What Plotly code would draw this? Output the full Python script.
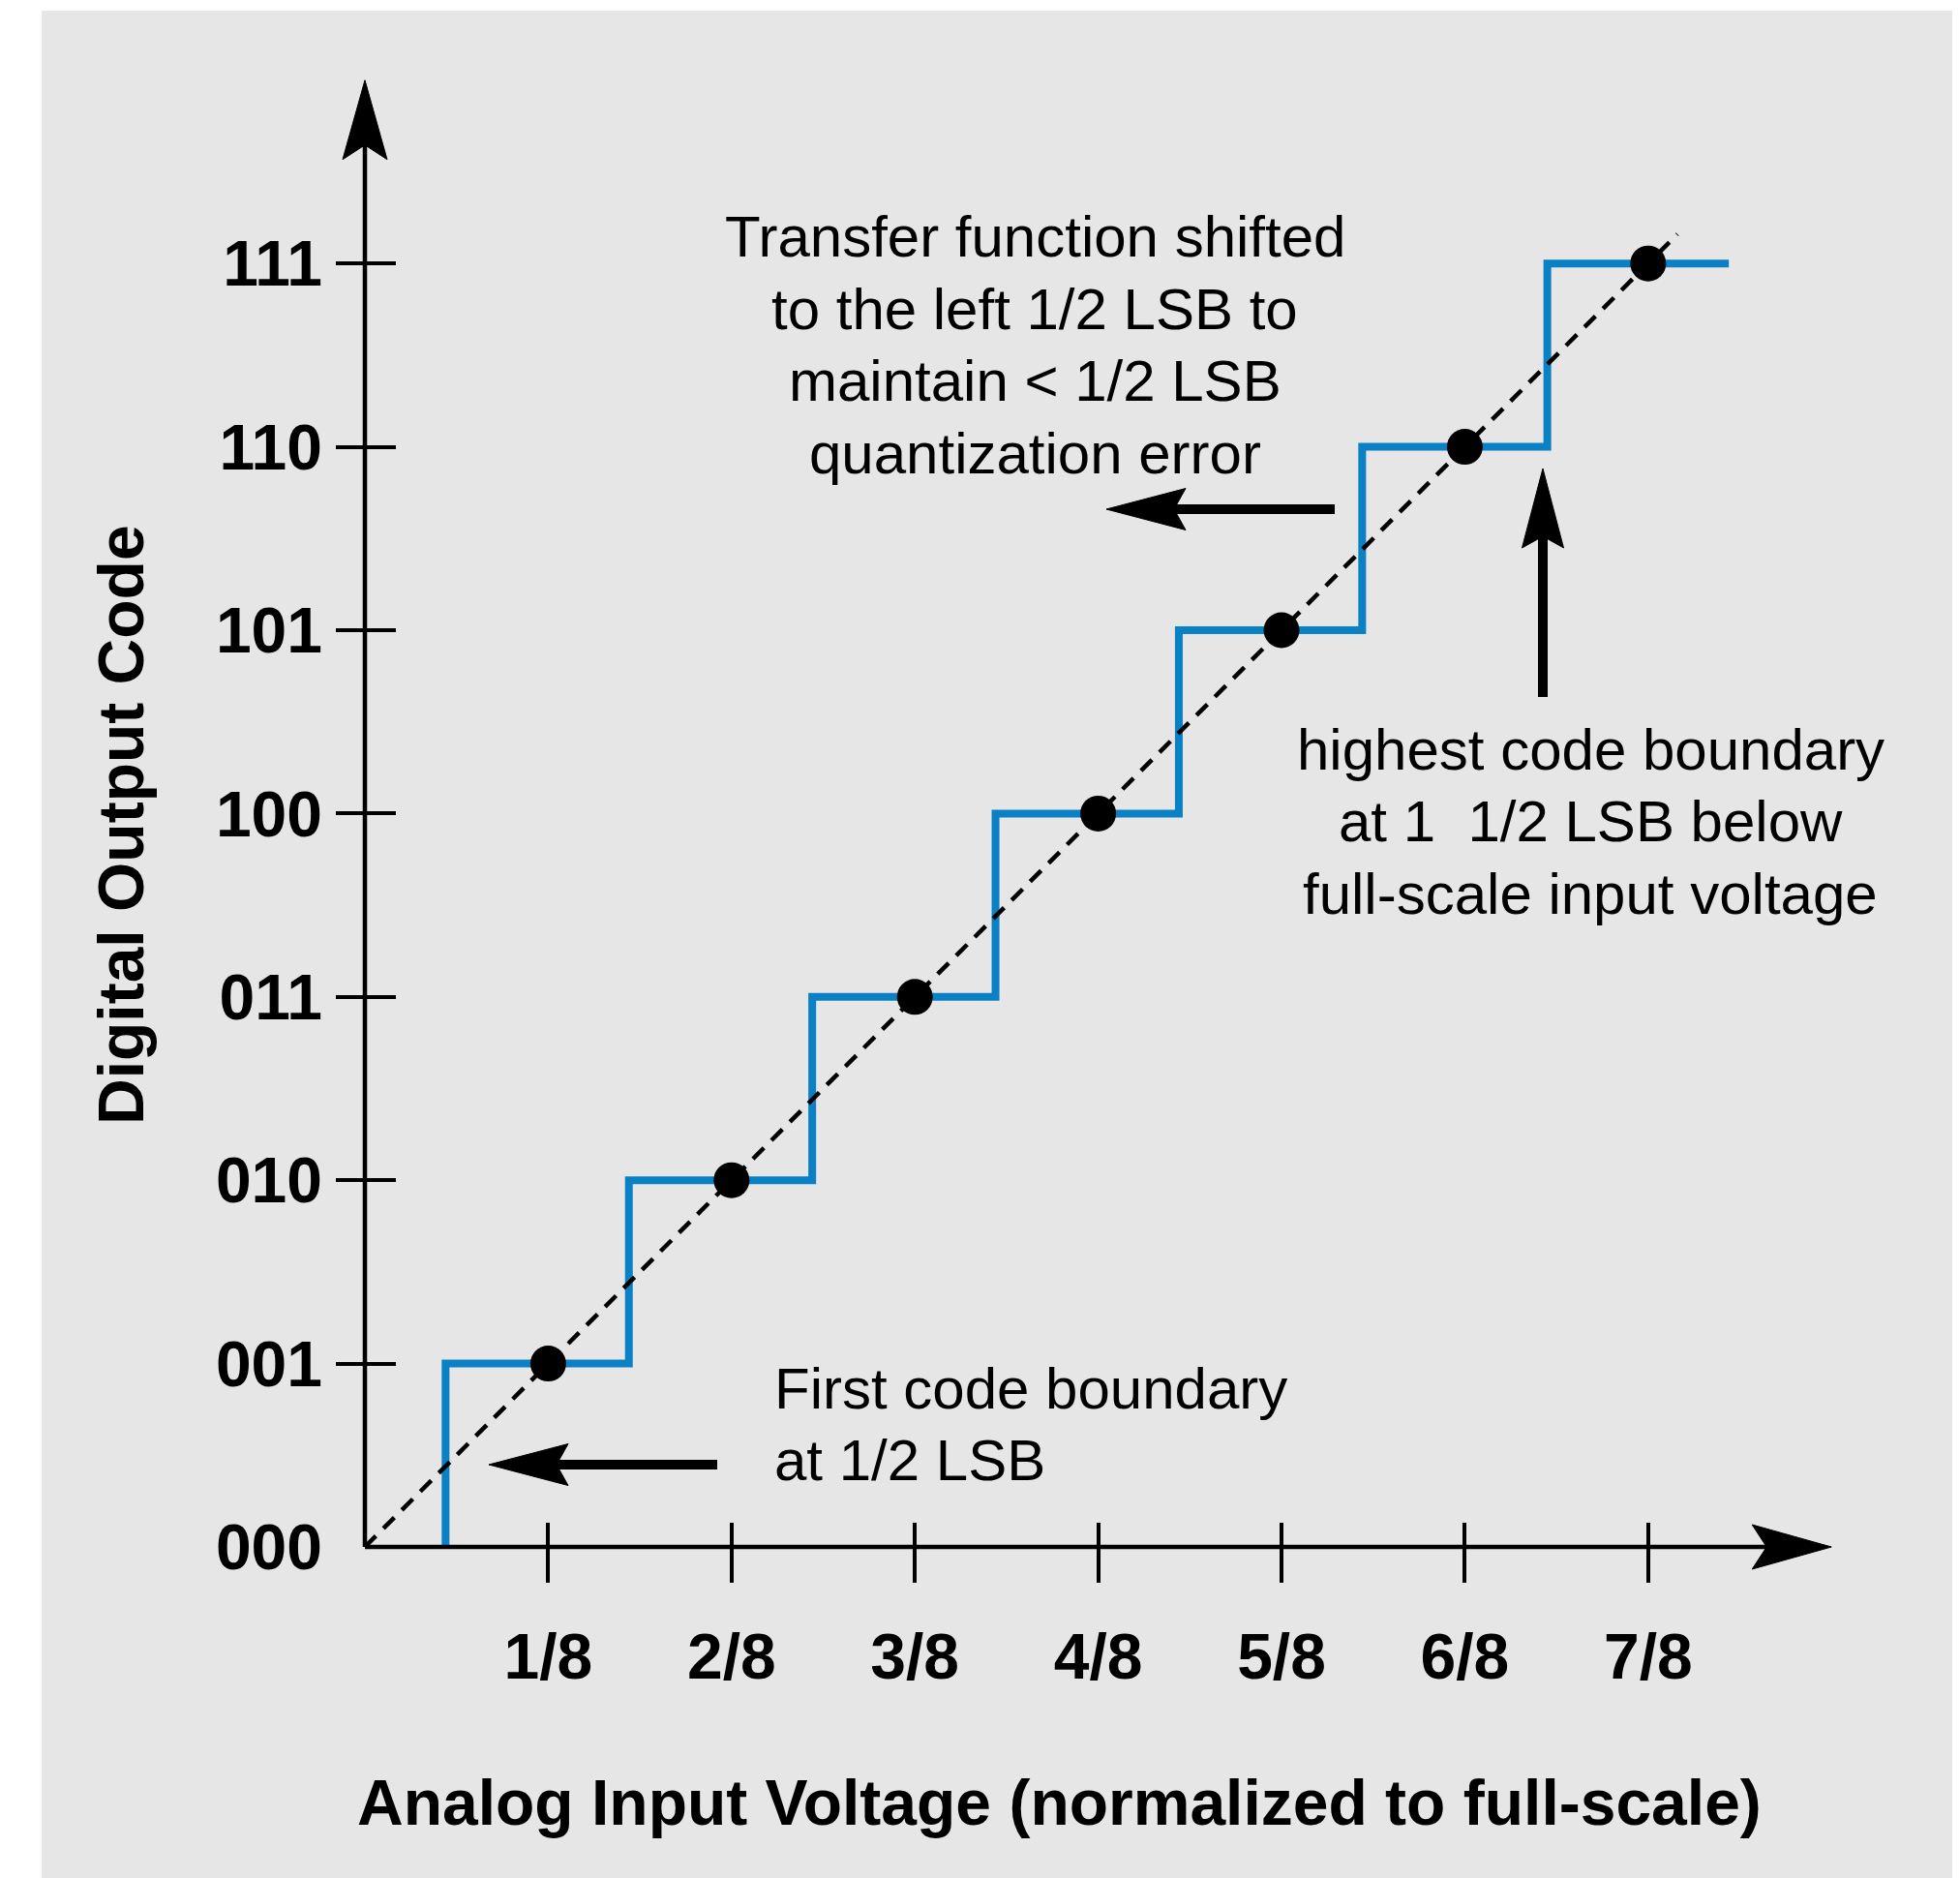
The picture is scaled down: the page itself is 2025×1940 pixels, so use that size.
import plotly.graph_objects as go

# ---------------- data ----------------
CODES = [0, 1, 2, 3, 4, 5, 6, 7]
CODE_LABELS = ["000", "001", "010", "011", "100", "101", "110", "111"]
TRANSITIONS = [0.44, 1.44, 2.44, 3.44, 4.44, 5.44, 6.45, 7.44]  # in LSB (1/8 FS)
X_TICKS = [1, 2, 3, 4, 5, 6, 7]
X_TICK_LABELS = ["1/8", "2/8", "3/8", "4/8", "5/8", "6/8", "7/8"]
IDEAL_X = [1, 2, 3, 4, 5, 6, 7]
IDEAL_Y = [1, 2, 3, 4, 5, 6, 7]
DIAG_X = [0, 7.16]
DIAG_Y = [0, 7.16]
AXIS_END = 8

# ---------------- layout constants (window pixels) ----------------
PAGE_OFF = 8                       # default body margin of the html page
W, H = 2025 - PAGE_OFF, 1940 - PAGE_OFF
PANEL_L, PANEL_T, PANEL_R = 43, 11, 2023
OX, OY, U = 377, 1598, 189.4       # origin pixel and pixels per LSB

FONT = "Liberation Sans, Arial, Helvetica, sans-serif"
BLUE = "#0a80c5"
GRAY = "#e6e6e6"


def fx(px):
    return px - PAGE_OFF


def dx(px):
    return (px - OX) / U


def dy(py):
    return (OY - py) / U


def arrow_head(tip, direction, length, width, notch):
    """closed polygon (data units) for a notched arrowhead"""
    ux, uy = direction
    nx, ny = -uy, ux
    L, Wd, N = length / U, width / U / 2, notch / U
    tx, ty = tip
    pts = [
        (tx, ty),
        (tx - ux * L + nx * Wd, ty - uy * L + ny * Wd),
        (tx - ux * (L - N), ty - uy * (L - N)),
        (tx - ux * L - nx * Wd, ty - uy * L - ny * Wd),
        (tx, ty),
    ]
    return [p[0] for p in pts], [p[1] for p in pts]


fig = go.Figure()

# step transfer function
fig.add_trace(go.Scatter(
    x=TRANSITIONS, y=CODES, mode="lines", line_shape="vh",
    line=dict(color=BLUE, width=8), hoverinfo="skip"))

# ideal diagonal
fig.add_trace(go.Scatter(
    x=DIAG_X, y=DIAG_Y, mode="lines",
    line=dict(color="black", width=4.5, dash="16px,11px"), hoverinfo="skip"))

# axes lines with arrowheads
AX_HEAD = dict(length=82, width=46, notch=15)
notch_data = (AX_HEAD["length"] - AX_HEAD["notch"]) / U
fig.add_trace(go.Scatter(x=[0, 0], y=[0, AXIS_END - notch_data], mode="lines",
                         line=dict(color="black", width=4.5), hoverinfo="skip"))
fig.add_trace(go.Scatter(x=[0, AXIS_END - notch_data], y=[0, 0], mode="lines",
                         line=dict(color="black", width=4.5), hoverinfo="skip"))
for tip, d in [((0, AXIS_END), (0, 1)), ((AXIS_END, 0), (1, 0))]:
    hx, hy = arrow_head(tip, d, **AX_HEAD)
    fig.add_trace(go.Scatter(x=hx, y=hy, mode="lines", fill="toself",
                             fillcolor="black", line=dict(color="black", width=1),
                             hoverinfo="skip"))

# callout arrows (tail pixel -> tip pixel)
CALLOUTS = [
    ((1379, 526), (1143, 526)),
    ((741, 1513), (505, 1513)),
    ((1594, 720), (1594, 484)),
]
CO_HEAD = dict(length=82, width=43, notch=12)
for (tpx, tpy), (hpx, hpy) in CALLOUTS:
    tx, ty, hx0, hy0 = dx(tpx), dy(tpy), dx(hpx), dy(hpy)
    lx, ly = hx0 - tx, hy0 - ty
    ln = (lx ** 2 + ly ** 2) ** 0.5
    ux, uy = lx / ln, ly / ln
    back = (CO_HEAD["length"] - CO_HEAD["notch"]) / U
    fig.add_trace(go.Scatter(x=[tx, hx0 - ux * back], y=[ty, hy0 - uy * back],
                             mode="lines", line=dict(color="black", width=10),
                             hoverinfo="skip"))
    ax_, ay_ = arrow_head((hx0, hy0), (ux, uy), **CO_HEAD)
    fig.add_trace(go.Scatter(x=ax_, y=ay_, mode="lines", fill="toself",
                             fillcolor="black", line=dict(color="black", width=1),
                             hoverinfo="skip"))

# ideal code centre points (on overlay axes which also carry the tick marks)
fig.add_trace(go.Scatter(x=IDEAL_X, y=IDEAL_Y, mode="markers",
                         marker=dict(color="black", size=37),
                         xaxis="x2", yaxis="y2", hoverinfo="skip"))

# figure-space geometry
xr = [dx(PANEL_L), dx(PANEL_R)]
yr = [dy(1940), dy(PANEL_T)]
xdom = [fx(PANEL_L) / W, fx(PANEL_R) / W]
ydom = [0, (H - fx(PANEL_T)) / H]

tickfont = dict(family=FONT, size=66, color="black", weight="bold")

fig.update_layout(
    width=W, height=H, margin=dict(l=0, r=0, t=0, b=0),
    paper_bgcolor="white", plot_bgcolor=GRAY, showlegend=False,
    xaxis=dict(domain=xdom, range=xr, showgrid=False, zeroline=False,
               showline=False, anchor="free", position=(H - fx(OY)) / H,
               tickmode="array", tickvals=X_TICKS, ticktext=X_TICK_LABELS,
               ticks="", tickfont=tickfont, ticklabelstandoff=69),
    yaxis=dict(domain=ydom, range=yr, showgrid=False, zeroline=False,
               showline=False, anchor="free", position=fx(OX) / W,
               tickmode="array", tickvals=CODES, ticktext=CODE_LABELS,
               ticks="", tickfont=tickfont, ticklabelstandoff=44),
    xaxis2=dict(domain=xdom, range=xr, overlaying="x", showgrid=False,
                zeroline=False, showline=False, anchor="free",
                position=(H - fx(OY - 26)) / H, tickmode="array",
                tickvals=X_TICKS, ticks="outside", ticklen=62, tickwidth=4,
                tickcolor="black", showticklabels=False),
    yaxis2=dict(domain=ydom, range=yr, overlaying="y", showgrid=False,
                zeroline=False, showline=False, anchor="free",
                position=fx(OX + 32) / W, tickmode="array",
                tickvals=CODES[1:], ticks="outside", ticklen=62, tickwidth=4,
                tickcolor="black", showticklabels=False),
)

ann = []
txt = dict(family=FONT, size=60, color="black")
bold = dict(family=FONT, size=66, color="black", weight="bold")

# axis titles
ann.append(dict(x=dx(1094), y=dy(1862), xref="x", yref="y",
                text="Analog Input Voltage (normalized to full-scale)",
                showarrow=False, font=bold, xanchor="center", yanchor="middle"))
ann.append(dict(x=dx(125), y=dy(852), xref="x", yref="y",
                text="Digital Output Code", textangle=-90,
                showarrow=False, font=bold, xanchor="center", yanchor="middle"))

BLOCKS = [
    (["Transfer function shifted", "to the left 1/2 LSB to",
      "maintain &lt; 1/2 LSB", "quantization error"], 1069, 245, "center"),
    (["highest code boundary", "at 1\u00a0\u00a01/2 LSB below",
      "full-scale input voltage"], 1643, 774, "center"),
    (["First code boundary", "at 1/2 LSB"], 798, 1434, "left"),
]
LINE_GAP = 74.5
for lines, bx, by, anchor in BLOCKS:
    for i, line in enumerate(lines):
        ann.append(dict(x=dx(bx), y=dy(by + i * LINE_GAP), xref="x", yref="y",
                        text=line, showarrow=False, font=txt,
                        xanchor=anchor, yanchor="middle"))

fig.update_layout(annotations=ann)
fig.write_html("out.html")
